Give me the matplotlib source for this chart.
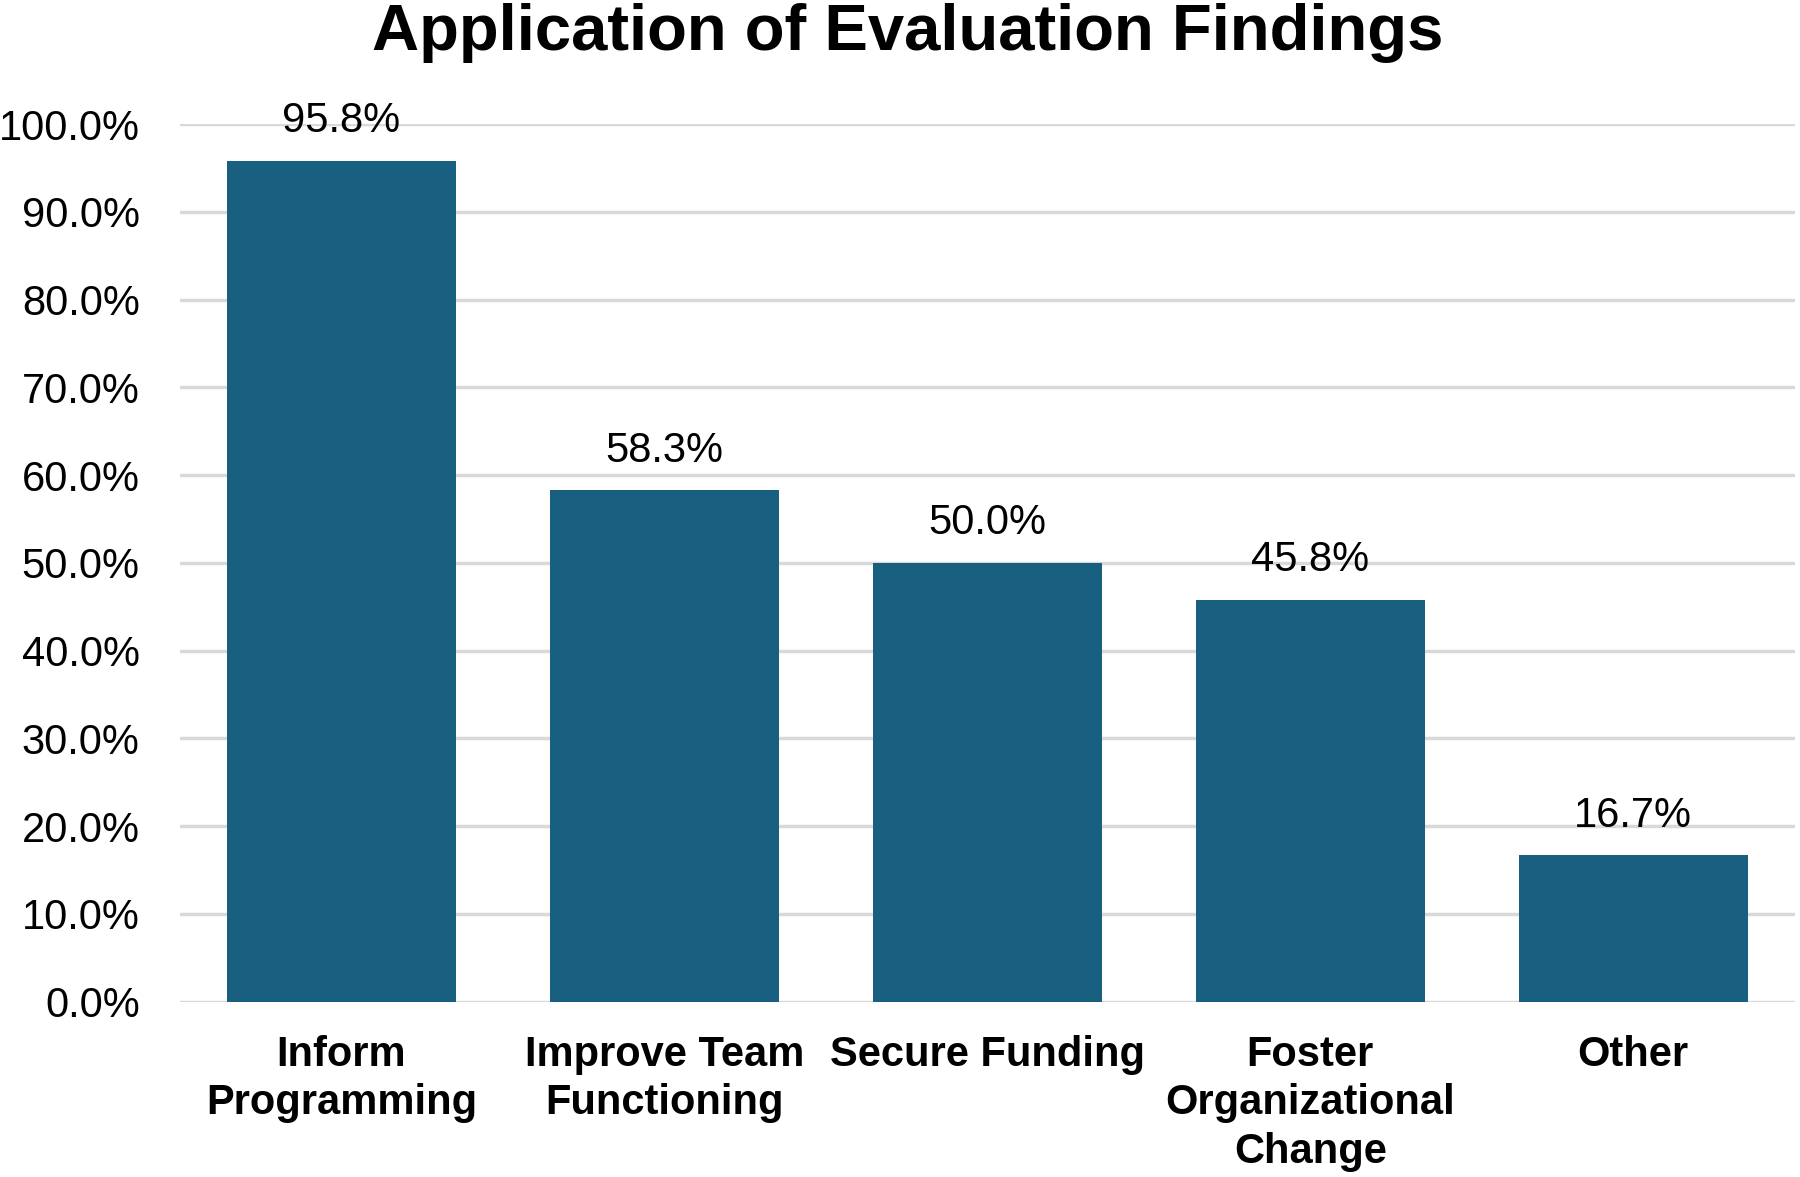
import matplotlib
matplotlib.use("Agg")
import matplotlib.pyplot as plt
from matplotlib.ticker import FuncFormatter

categories = ["Inform\nProgramming", "Improve Team\nFunctioning", "Secure Funding",
              "Foster\nOrganizational\nChange", "Other"]
values = [95.8, 58.3, 50.0, 45.8, 16.7]
yticks = [0, 10, 20, 30, 40, 50, 60, 70, 80, 90, 100]

plt.rcParams["font.family"] = ["Liberation Sans", "DejaVu Sans"]
BAR = "#185F80"
GRID = "#D9D9D9"

fig = plt.figure(figsize=(18, 11.77), dpi=100)
ax = fig.add_axes([0.1, 0.149, 0.897, 0.7456])

x = range(len(categories))
bars = ax.bar(x, values, width=0.71, color=BAR, zorder=3)
for b, v in zip(bars, values):
    ax.annotate(f"{v:.1f}%", (b.get_x() + b.get_width() / 2, v), xytext=(0, 14),
                textcoords="offset points", ha="center", va="bottom", fontsize=30,
                annotation_clip=False)

ax.set_xlim(-0.5, len(categories) - 0.5)
ax.set_ylim(0, 100)
ax.set_yticks(yticks)
ax.yaxis.set_major_formatter(FuncFormatter(lambda v, p: f"{v:.1f}%"))
ax.set_xticks(list(x))
ax.set_xticklabels(categories, fontsize=30, fontweight="bold", linespacing=1.27,
                   va="top")
ax.tick_params(axis="y", length=0, pad=29, labelsize=30)
ax.tick_params(axis="x", length=0, pad=24)
ax.grid(axis="y", color=GRID, lw=2.5, zorder=0)
for s in ax.spines.values():
    s.set_visible(False)

fig.suptitle("Application of Evaluation Findings", x=0.504, y=0.972, va="center",
             fontsize=47, fontweight="bold")

fig.savefig("out.png", dpi=100)
